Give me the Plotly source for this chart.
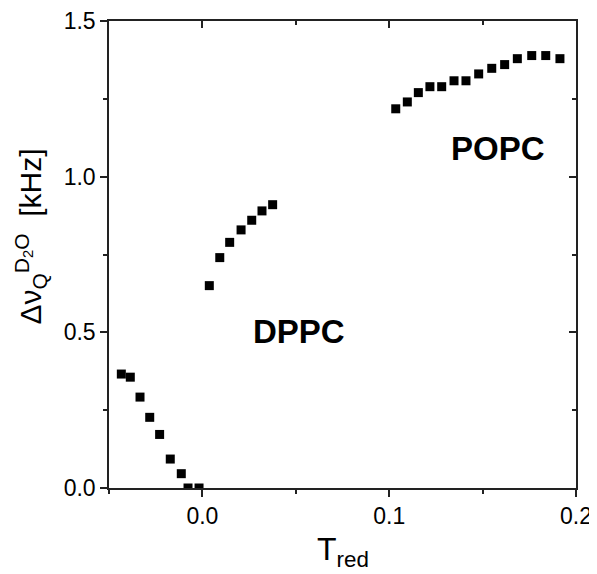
import plotly.graph_objects as go

# gel-phase branch below T_red = 0
low_t = [-0.0434, -0.0386, -0.0334, -0.0282, -0.0229, -0.0172, -0.0113, -0.0077, -0.0018]
low_dnu = [0.366, 0.356, 0.292, 0.227, 0.172, 0.093, 0.046, 0.0, 0.0]

# DPPC fluid branch
dppc_t = [0.0037, 0.0093, 0.0146, 0.0207, 0.0264, 0.0319, 0.0376]
dppc_dnu = [0.650, 0.740, 0.789, 0.829, 0.860, 0.890, 0.910]

# POPC
popc_t = [0.1035, 0.1097, 0.1156, 0.1218, 0.1281, 0.1347, 0.1411,
          0.1479, 0.1549, 0.1618, 0.1686, 0.1763, 0.1838, 0.1914]
popc_dnu = [1.218, 1.240, 1.270, 1.289, 1.289, 1.308, 1.308,
            1.330, 1.348, 1.360, 1.379, 1.389, 1.389, 1.379]

labels = [("DPPC", 0.0517, 0.504), ("POPC", 0.158, 1.089)]

FONT = "Liberation Sans, Arial, sans-serif"
X_RANGE = [-0.05, 0.2]
Y_RANGE = [0.0, 1.5]
# page body has an 8px default margin, so the figure is shrunk/shifted by that
PAGE_PAD = 8

fig = go.Figure()
for xs, ys in [(low_t, low_dnu), (dppc_t, dppc_dnu), (popc_t, popc_dnu)]:
    fig.add_trace(
        go.Scatter(
            x=xs, y=ys, mode="markers", showlegend=False,
            marker=dict(symbol="square", size=9, color="black", line=dict(width=0)),
        )
    )

# invisible trace so the mirrored top/right axes get drawn
fig.add_trace(
    go.Scatter(
        x=[X_RANGE[0]], y=[Y_RANGE[0]], xaxis="x2", yaxis="y2", mode="markers",
        marker=dict(opacity=0), showlegend=False, hoverinfo="skip",
    )
)

axis_common = dict(
    showgrid=False, zeroline=False, showline=True, automargin=False,
    linecolor="#222", linewidth=1.5,
    tickcolor="#222", tickwidth=1.5, ticklen=7,
)
tickfont = dict(family=FONT, size=23, color="black")

fig.update_layout(
    width=597 - PAGE_PAD, height=574 - PAGE_PAD,
    margin=dict(l=109 - PAGE_PAD, r=21, t=21 - PAGE_PAD, b=86, autoexpand=False),
    plot_bgcolor="white", paper_bgcolor="white",
    font=dict(family=FONT, color="black"),
    xaxis=dict(
        range=X_RANGE, tick0=0, dtick=0.1, tickformat=".1f", ticks="outside",
        tickfont=tickfont,
        minor=dict(dtick=0.05, ticks="outside", ticklen=4, tickcolor="#222", tickwidth=1.5),
        **axis_common,
    ),
    yaxis=dict(
        range=Y_RANGE, tick0=0, dtick=0.5, tickformat=".1f", ticks="outside",
        tickfont=tickfont,
        minor=dict(dtick=0.25, ticks="outside", ticklen=4, tickcolor="#222", tickwidth=1.5),
        **axis_common,
    ),
    xaxis2=dict(
        range=X_RANGE, overlaying="x", side="top", tick0=0, dtick=0.1,
        ticks="inside", showticklabels=False,
        minor=dict(dtick=0.05, ticks="inside", ticklen=4, tickcolor="#222", tickwidth=1.5),
        **axis_common,
    ),
    yaxis2=dict(
        range=Y_RANGE, overlaying="y", side="right", tick0=0, dtick=0.5,
        ticks="inside", showticklabels=False,
        minor=dict(dtick=0.25, ticks="inside", ticklen=4, tickcolor="#222", tickwidth=1.5),
        **axis_common,
    ),
)

for text, lx, ly in labels:
    fig.add_annotation(
        x=lx, y=ly, text=f"<b>{text}</b>", showarrow=False,
        font=dict(family=FONT, size=33, color="black"),
        xanchor="center", yanchor="middle",
    )

# axis titles as paper annotations for exact placement
fig.add_annotation(
    xref="paper", yref="paper", x=0.5, y=-0.137,
    text="T<sub>red</sub>", showarrow=False,
    font=dict(family=FONT, size=32, color="black"),
    xanchor="center", yanchor="middle",
)
fig.add_annotation(
    xref="paper", yref="paper", x=-0.169, y=0.5385,
    text="Δν<sub>Q</sub><sup>D<sub>2</sub>O</sup>  [kHz]",
    textangle=-90, showarrow=False,
    font=dict(family=FONT, size=30, color="black"),
    xanchor="center", yanchor="middle",
)

fig.write_html("out.html")
